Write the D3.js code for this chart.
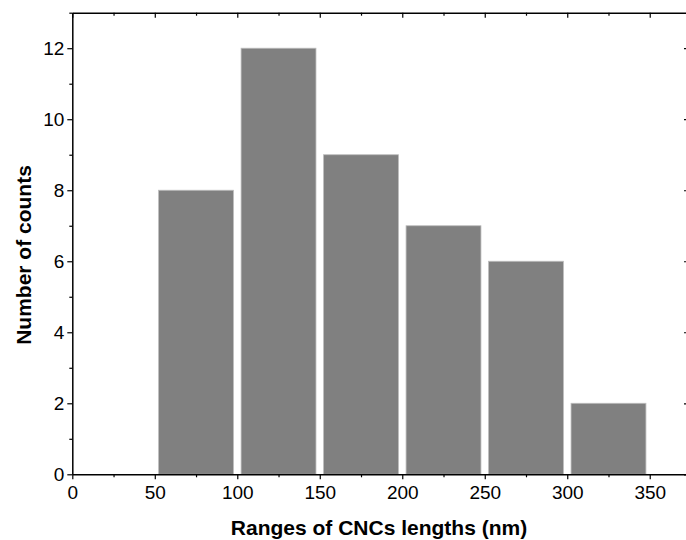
<!DOCTYPE html>
<html>
<head>
<meta charset="utf-8">
<script src="https://cdn.jsdelivr.net/npm/d3@7"></script>
<style>
  html, body { margin: 0; padding: 0; background: #fff; }
  svg { display: block; }
  text { font-family: "Liberation Sans", Arial, sans-serif; fill: #000; }
</style>
</head>
<body>
<svg id="chart" width="686" height="540"></svg>
<script>
// Histogram of CNC lengths: bin starts (nm), bin width, and counts per bin
const binStarts = [50, 100, 150, 200, 250, 300];
const binWidth = 50;
const counts = [8, 12, 9, 7, 6, 2];

const xTicks = [0, 50, 100, 150, 200, 250, 300, 350];
const xMinorTicks = [25, 75, 125, 175, 225, 275, 325, 375];
const yTicks = [0, 2, 4, 6, 8, 10, 12];
const yMinorTicks = [1, 3, 5, 7, 9, 11, 13];

const xTitle = "Ranges of CNCs lengths (nm)";
const yTitle = "Number of counts";

const svg = d3.select("#chart");
const plotLeft = 72.3, plotRight = 689, plotTop = 12.7, plotBottom = 474.3;

const x = d3.scaleLinear().domain([0, 373.8]).range([plotLeft, plotRight]);
const y = d3.scaleLinear().domain([0, 13]).range([plotBottom, plotTop]);

// bars
const gap = 2.3; // half-gap between adjacent bars, in nm
svg.append("g").selectAll("rect")
  .data(binStarts.map((s, i) => ({ s, c: counts[i] })))
  .join("rect")
  .attr("x", d => x(d.s + gap))
  .attr("width", d => x(d.s + binWidth - gap) - x(d.s + gap))
  .attr("y", d => y(d.c))
  .attr("height", d => y(0) - y(d.c))
  .attr("fill", "#808080")
  .attr("stroke", "#bdbdbd")
  .attr("stroke-width", 0.8);

function styleAxis(g) {
  g.selectAll(".domain").attr("stroke", "#000").attr("stroke-width", 1.5);
  g.selectAll(".tick line").attr("stroke", "#000").attr("stroke-width", 1.2);
  g.selectAll(".tick text").style("font-size", "19px").style("font-family", "'Liberation Sans', Arial, sans-serif");
}
function minorStyle(g) {
  g.select(".domain").remove();
  g.selectAll("line").attr("stroke", "#000").attr("stroke-width", 1.2);
}
const minorX = xMinorTicks.filter(v => x(v) < plotRight);

// bottom axis (major + minor)
const gx = svg.append("g").attr("transform", `translate(0,${plotBottom})`)
  .call(d3.axisBottom(x).tickValues(xTicks).tickSize(5).tickPadding(6).tickSizeOuter(0));
styleAxis(gx);
svg.append("g").attr("transform", `translate(0,${plotBottom})`)
  .call(d3.axisBottom(x).tickValues(minorX).tickSize(3).tickFormat("").tickSizeOuter(0))
  .call(minorStyle);

// top axis (ticks inward)
const gt = svg.append("g").attr("transform", `translate(0,${plotTop})`)
  .call(d3.axisTop(x).tickValues(xTicks).tickSize(-5).tickFormat("").tickSizeOuter(0));
styleAxis(gt);
svg.append("g").attr("transform", `translate(0,${plotTop})`)
  .call(d3.axisTop(x).tickValues(minorX).tickSize(-3).tickFormat("").tickSizeOuter(0))
  .call(minorStyle);

// left axis
const gy = svg.append("g").attr("transform", `translate(${plotLeft},0)`)
  .call(d3.axisLeft(y).tickValues(yTicks).tickSize(5).tickPadding(3).tickSizeOuter(0));
styleAxis(gy);
svg.append("g").attr("transform", `translate(${plotLeft},0)`)
  .call(d3.axisLeft(y).tickValues(yMinorTicks).tickSize(3).tickFormat("").tickSizeOuter(0))
  .call(minorStyle);

// right axis (ticks inward)
const gr = svg.append("g").attr("transform", `translate(${plotRight},0)`)
  .call(d3.axisRight(y).tickValues(yTicks).tickSize(-5).tickFormat("").tickSizeOuter(0));
styleAxis(gr);
svg.append("g").attr("transform", `translate(${plotRight},0)`)
  .call(d3.axisRight(y).tickValues(yMinorTicks).tickSize(-3).tickFormat("").tickSizeOuter(0))
  .call(minorStyle);

// axis titles
svg.append("text")
  .attr("x", 379).attr("y", 535)
  .attr("text-anchor", "middle")
  .style("font-size", "21px").style("font-weight", "bold")
  .text(xTitle);

svg.append("text")
  .attr("transform", "translate(31,255) rotate(-90)")
  .attr("text-anchor", "middle")
  .style("font-size", "21px").style("font-weight", "bold")
  .text(yTitle);
</script>
</body>
</html>
